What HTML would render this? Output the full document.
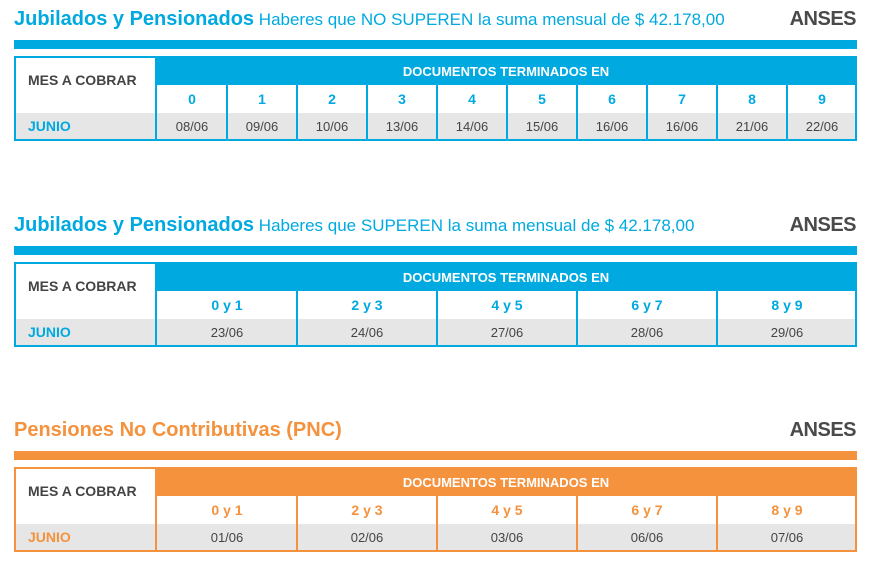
<!DOCTYPE html>
<html><head><meta charset="utf-8">
<style>
body{margin:0;width:870px;height:573px;background:#fff;position:relative;overflow:hidden;font-family:"Liberation Sans",sans-serif;}
.a{position:absolute;box-sizing:border-box;}
.c{display:flex;align-items:center;justify-content:center;}
</style></head><body>
<script>
const sectionTitles=["Jubilados y Pensionados","Jubilados y Pensionados","Pensiones No Contributivas (PNC)"];
const sectionSubtitles=["Haberes que NO SUPEREN la suma mensual de $ 42.178,00","Haberes que SUPEREN la suma mensual de $ 42.178,00",""];
const sectionColors=["#00a9e0","#00a9e0","#f4923d"];
const groups1=["0","1","2","3","4","5","6","7","8","9"];
const dates1=["08/06","09/06","10/06","13/06","14/06","15/06","16/06","16/06","21/06","22/06"];
const groups2=["0 y 1","2 y 3","4 y 5","6 y 7","8 y 9"];
const dates2=["23/06","24/06","27/06","28/06","29/06"];
const groups3=["0 y 1","2 y 3","4 y 5","6 y 7","8 y 9"];
const dates3=["01/06","02/06","03/06","06/06","07/06"];
const groupsAll=[groups1,groups2,groups3];
const datesAll=[dates1,dates2,dates3];
const offsets=[0,206,411];
function mk(cls,st,txt,name,parent){const d=document.createElement('div');d.className=cls;d.style.cssText=st;if(txt!==undefined)d.textContent=txt;


(parent||document.body).appendChild(d);return d;}
for(let s=0;s<3;s++){
 const o=offsets[s],col=sectionColors[s];
 const t=mk('a',`left:14px;top:${o+8}px;white-space:nowrap;font-size:20px;color:${col};`,undefined,'section-title');
 const b=document.createElement('b');b.textContent=sectionTitles[s];t.appendChild(b);
 
 
 if(sectionSubtitles[s]){const sp=document.createElement('span');sp.textContent=' '+sectionSubtitles[s];sp.style.fontSize='17px';t.appendChild(sp);
 
 }
 mk('a',`right:14px;top:${o+8}px;font-size:20px;font-weight:bold;color:#4a4a4a;letter-spacing:-0.5px;`,'ANSES','anses-logo');
 mk('a',`left:14px;top:${o+40}px;width:843px;height:9px;background:${col};`,undefined,'color-bar');
 const tb=mk('a',`left:14px;top:${o+56}px;width:843px;height:85px;border:2px solid ${col};background:#fff;`,undefined,'payment-table');
 mk('a',`left:0;top:55px;width:839px;height:26px;background:#e6e6e6;`,undefined,'data-row-bg',tb);
 mk('a c',`left:0;top:0;width:139px;height:55px;font-size:14px;font-weight:bold;color:#444;padding-bottom:12px;justify-content:flex-start;padding-left:12px;`,'MES A COBRAR','mes-header',tb);
 mk('a c',`left:0;top:55px;width:139px;height:26px;font-size:14px;font-weight:bold;color:${col};justify-content:flex-start;padding-left:12px;`,'JUNIO','month-label',tb);
 mk('a',`left:139px;top:0;width:2px;height:81px;background:${col};`,undefined,'divider',tb);
 mk('a c',`left:141px;top:0;width:698px;height:27px;background:${col};color:#fff;font-weight:bold;font-size:13px;`,'DOCUMENTOS TERMINADOS EN','documents-header',tb);
 const g=groupsAll[s],dt=datesAll[s],n=g.length,w=700/n;
 for(let i=0;i<n;i++){
  const x=141+i*w;
  if(i>0)mk('a',`left:${x-1}px;top:27px;width:2px;height:54px;background:${col};`,undefined,'column-divider',tb);
  mk('a c',`left:${x}px;top:27px;width:${w}px;height:28px;font-size:14px;font-weight:bold;color:${col};`,g[i],'document-digit',tb);
  mk('a c',`left:${x}px;top:55px;width:${w}px;height:26px;font-size:13px;color:#444;`,dt[i],'payment-date',tb);
 }
}
</script>
</body></html>
